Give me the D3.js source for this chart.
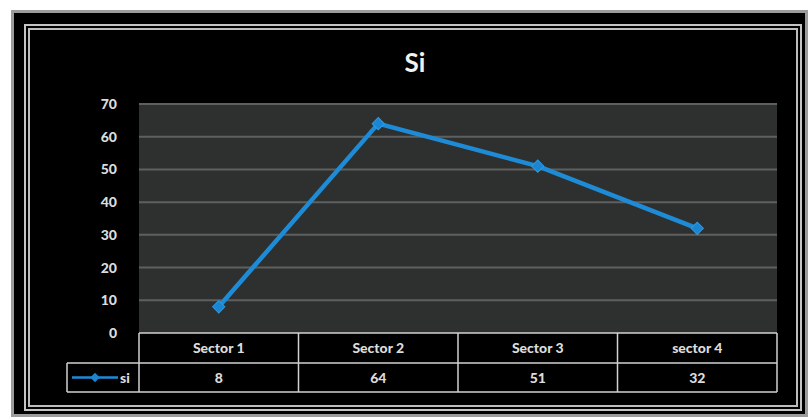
<!DOCTYPE html>
<html><head><meta charset="utf-8">
<script src="https://cdn.jsdelivr.net/npm/d3@7"></script>
<style>html,body{margin:0;padding:0;background:#fff;}svg{display:block;}</style>
</head><body>
<svg id="c" width="811" height="420"></svg>
<script>
const title = "Si";
const seriesName = "si";
const categories = ["Sector 1", "Sector 2", "Sector 3", "sector 4"];
const values = [8, 64, 51, 32];
const yTicks = [0, 10, 20, 30, 40, 50, 60, 70];

const svg = d3.select("#c");
const font = "Lato, 'Open Sans', 'DejaVu Sans', sans-serif";
const lineColor = "#1e8bd6";

// frame
svg.append("rect").attr("x", 12.5).attr("y", 11.5).attr("width", 794).attr("height", 404)
  .attr("fill", "#000").attr("stroke", "#9c9c9c").attr("stroke-width", 3);
svg.append("rect").attr("x", 25).attr("y", 25).attr("width", 776).attr("height", 385)
  .attr("fill", "none").attr("stroke", "#c4c4c4").attr("stroke-width", 2);
svg.append("rect").attr("x", 29).attr("y", 29).attr("width", 768).attr("height", 377)
  .attr("fill", "none").attr("stroke", "#bdbdbd").attr("stroke-width", 2);

const L = 139, R = 777, T = 104, B = 333;
const x = d3.scaleBand().domain(categories).range([L, R]).padding(0);
const y = d3.scaleLinear().domain([0, 70]).range([B, T]);

// title
svg.append("text").attr("x", 415).attr("y", 72).attr("text-anchor", "middle")
  .attr("font-family", font).attr("font-weight", "bold").attr("font-size", 26)
  .attr("fill", "#f2f2f2").text(title);

// plot background
svg.append("rect").attr("x", L).attr("y", T).attr("width", R - L).attr("height", B - T)
  .attr("fill", "#2e302f");

// gridlines
svg.append("g").selectAll("line").data(yTicks.filter(d => d > 0)).join("line")
  .attr("x1", L).attr("x2", R).attr("y1", d => y(d)).attr("y2", d => y(d))
  .attr("stroke", "#5d605f").attr("stroke-width", 2);

// y axis
const yAxis = svg.append("g").attr("transform", `translate(${L - 20},0)`)
  .call(d3.axisLeft(y).tickValues(yTicks).tickSize(0).tickPadding(2));
yAxis.select(".domain").remove();
yAxis.selectAll("text").attr("font-family", font).attr("font-weight", "900")
  .attr("font-size", 14).attr("fill", "#dcdcdc");

// line
const line = d3.line().x((d, i) => x(categories[i]) + x.bandwidth() / 2).y(d => y(d));
svg.append("path").datum(values).attr("d", line).attr("fill", "none")
  .attr("stroke", lineColor).attr("stroke-width", 4.5).attr("stroke-linejoin", "round");
const marker = d3.symbol().type(d3.symbolSquare).size(75);
svg.append("g").selectAll("path").data(values).join("path")
  .attr("transform", (d, i) => `translate(${x(categories[i]) + x.bandwidth() / 2},${y(d)}) rotate(45)`)
  .attr("d", marker).attr("fill", "#1a86d2").attr("stroke", "#2a9ae6").attr("stroke-width", 1);

// data table
const rowH1 = 363, rowH2 = 392, keyL = 67;
const tbl = svg.append("g").attr("stroke", "#d2d2d2").attr("stroke-width", 1.5);
tbl.append("line").attr("x1", L).attr("x2", R).attr("y1", B).attr("y2", B);
tbl.append("line").attr("x1", keyL).attr("x2", R).attr("y1", rowH1).attr("y2", rowH1);
tbl.append("line").attr("x1", keyL).attr("x2", R).attr("y1", rowH2).attr("y2", rowH2);
tbl.append("line").attr("x1", keyL).attr("x2", keyL).attr("y1", rowH1).attr("y2", rowH2);
const bounds = categories.map(c => x(c)).concat([R]);
tbl.selectAll(".v").data(bounds).join("line").attr("class", "v")
  .attr("x1", d => d).attr("x2", d => d).attr("y1", B).attr("y2", rowH2);

svg.append("g").selectAll("text").data(categories).join("text")
  .attr("x", d => x(d) + x.bandwidth() / 2).attr("y", (B + rowH1) / 2 + 5)
  .attr("text-anchor", "middle").attr("font-family", font).attr("font-weight", "900")
  .attr("font-size", 14).attr("fill", "#dcdcdc").text(d => d);
svg.append("g").selectAll("text").data(values).join("text")
  .attr("x", (d, i) => x(categories[i]) + x.bandwidth() / 2).attr("y", (rowH1 + rowH2) / 2 + 5)
  .attr("text-anchor", "middle").attr("font-family", font).attr("font-weight", "900")
  .attr("font-size", 14).attr("fill", "#dcdcdc").text(d => d);

// legend key
const ky = (rowH1 + rowH2) / 2;
svg.append("line").attr("x1", 72).attr("x2", 118).attr("y1", ky).attr("y2", ky)
  .attr("stroke", lineColor).attr("stroke-width", 2.5);
svg.append("path").attr("transform", `translate(95,${ky}) rotate(45)`)
  .attr("d", d3.symbol().type(d3.symbolSquare).size(45))
  .attr("fill", "#1a86d2");
svg.append("text").attr("x", 120).attr("y", ky + 5).attr("font-family", font).attr("font-weight", "900")
  .attr("font-size", 14).attr("fill", "#dcdcdc").text(seriesName);
</script>
</body></html>
